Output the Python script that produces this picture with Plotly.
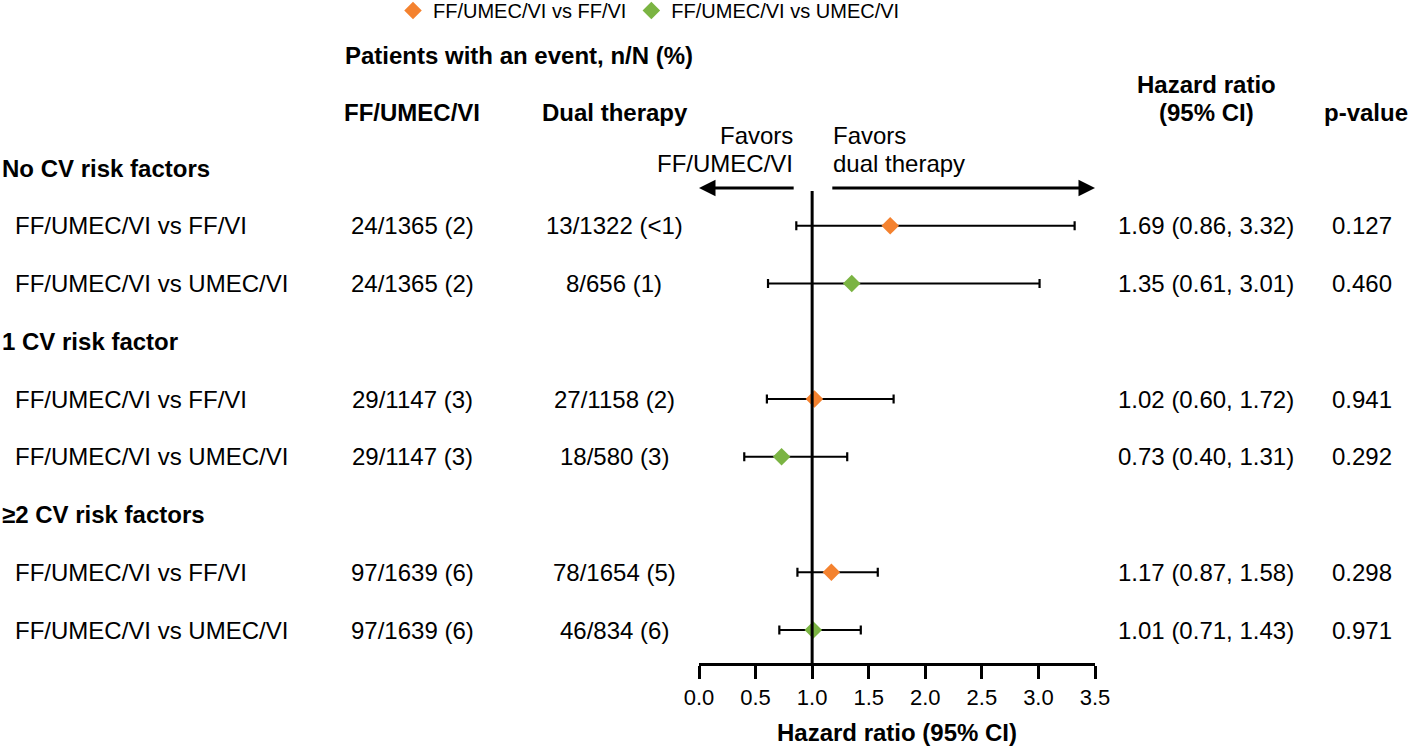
import plotly.graph_objects as go

W, H = 1416, 747

# ---------------- data ----------------
groups = ["No CV risk factors", "1 CV risk factor", "≥2 CV risk factors"]
comparisons = ["FF/UMEC/VI vs FF/VI", "FF/UMEC/VI vs UMEC/VI"]
triple_events = ["24/1365 (2)", "24/1365 (2)", "29/1147 (3)", "29/1147 (3)", "97/1639 (6)", "97/1639 (6)"]
dual_events = ["13/1322 (<1)", "8/656 (1)", "27/1158 (2)", "18/580 (3)", "78/1654 (5)", "46/834 (6)"]
hr = [1.69, 1.35, 1.02, 0.73, 1.17, 1.01]
ci_low = [0.86, 0.61, 0.60, 0.40, 0.87, 0.71]
ci_high = [3.32, 3.01, 1.72, 1.31, 1.58, 1.43]
p_values = ["0.127", "0.460", "0.941", "0.292", "0.298", "0.971"]
tick_values = [0.0, 0.5, 1.0, 1.5, 2.0, 2.5, 3.0, 3.5]
series_colors = {"FF/UMEC/VI vs FF/VI": "#F4822F", "FF/UMEC/VI vs UMEC/VI": "#7BB443"}

# ---------------- layout helpers ----------------
FONT = "Liberation Sans, Arial, Helvetica, sans-serif"
PLOT_BOTTOM_PX = 663
SLOT0_PX, SLOT_STEP = 168, 57.75
y_top = (0 - SLOT0_PX) / SLOT_STEP
y_bot = (PLOT_BOTTOM_PX - SLOT0_PX) / SLOT_STEP


def px_x(px):
    return px / W


def slot_of_px(py):
    return (py - SLOT0_PX) / SLOT_STEP


row_slots = [3 * (k // 2) + 1 + (k % 2) for k in range(len(hr))]
row_labels = [comparisons[k % 2] for k in range(len(hr))]

fig = go.Figure()

for comp in comparisons:
    idx = [k for k in range(len(hr)) if row_labels[k] == comp]
    fig.add_trace(go.Scatter(
        x=[hr[k] for k in idx],
        y=[row_slots[k] for k in idx],
        mode="markers",
        name=comp,
        marker=dict(symbol="diamond", size=13.5, color=series_colors[comp]),
        error_x=dict(type="data", symmetric=False,
                     array=[ci_high[k] - hr[k] for k in idx],
                     arrayminus=[hr[k] - ci_low[k] for k in idx],
                     color="#000000", thickness=2.2, width=4.5),
        cliponaxis=False,
    ))

ann = []
TXT = 24

def add_text(text, x_px, y, anchor="center", bold=False, size=TXT, yref="y"):
    ann.append(dict(
        text=f"<b>{text}</b>" if bold else text,
        x=px_x(x_px), xref="paper", y=y, yref=yref,
        xanchor=anchor, yanchor="middle", showarrow=False,
        font=dict(family=FONT, size=size, color="#000000"),
    ))

# column headers
add_text("Patients with an event, n/N (%)", 343, slot_of_px(55), anchor="left", bold=True)
add_text("FF/UMEC/VI", 412, slot_of_px(112), bold=True)
add_text("Dual therapy", 615, slot_of_px(112), bold=True)
add_text("Hazard ratio", 1206, slot_of_px(84), bold=True)
add_text("(95% CI)", 1206, slot_of_px(112), bold=True)
add_text("p-value", 1366, slot_of_px(112), bold=True)

# group headers
for g, name in enumerate(groups):
    add_text(name, 0, 3 * g, anchor="left", bold=True)

# rows
for k in range(len(hr)):
    s = row_slots[k]
    add_text(row_labels[k], 13, s, anchor="left")
    add_text(triple_events[k], 412, s)
    add_text(dual_events[k], 614, s)
    add_text(f"{hr[k]:.2f} ({ci_low[k]:.2f}, {ci_high[k]:.2f})", 1206, s)
    add_text(p_values[k], 1362, s)

# favors text
add_text("Favors", 795, slot_of_px(135), anchor="right", size=24)
add_text("FF/UMEC/VI", 795, slot_of_px(163), anchor="right", size=24)
add_text("Favors", 831, slot_of_px(135), anchor="left", size=24)
add_text("dual therapy", 831, slot_of_px(163), anchor="left", size=24)

# arrows
arrow_y = slot_of_px(188)
ann.append(dict(x=0.0, y=arrow_y, ax=0.85, ay=arrow_y, xref="x", yref="y", axref="x", ayref="y",
                showarrow=True, arrowhead=2, arrowsize=1.1, arrowwidth=3, arrowcolor="#000000",
                text="", standoff=0, startstandoff=0))
ann.append(dict(x=3.5, y=arrow_y, ax=1.165, ay=arrow_y, xref="x", yref="y", axref="x", ayref="y",
                showarrow=True, arrowhead=2, arrowsize=1.1, arrowwidth=3, arrowcolor="#000000",
                text="", standoff=0, startstandoff=0))

fig.add_shape(type="line", x0=1, x1=1, y0=slot_of_px(191), y1=y_bot, xref="x", yref="y",
              line=dict(color="#000000", width=3))

fig.update_layout(
    width=W, height=H,
    margin=dict(l=0, r=0, t=0, b=0, autoexpand=False),
    paper_bgcolor="white", plot_bgcolor="white",
    font=dict(family=FONT, color="#000000"),
    annotations=ann,
    showlegend=True,
    legend=dict(orientation="h", x=px_x(393), xanchor="left", y=1.012, yanchor="top",
                font=dict(family=FONT, size=20, color="#000000"),
                bgcolor="rgba(0,0,0,0)", itemwidth=30, traceorder="normal"),
    xaxis=dict(domain=[699 / W, 1095 / W], range=[0, 3.5], showgrid=False, zeroline=False,
               showline=True, linewidth=3, linecolor="#000000",
               ticks="outside", ticklen=13, tickwidth=3, tickcolor="#000000",
               tickvals=tick_values, ticktext=[f"{v:.1f}" for v in tick_values],
               tickfont=dict(family=FONT, size=22, color="#000000"),
               title=dict(text="<b>Hazard ratio (95% CI)</b>", standoff=15,
                          font=dict(family=FONT, size=24, color="#000000")),
               fixedrange=True),
    yaxis=dict(domain=[(H - PLOT_BOTTOM_PX) / H, 1], range=[y_bot, y_top], visible=False,
               showgrid=False, zeroline=False, fixedrange=True),
)

fig.write_html("out.html",
               config={"displayModeBar": False, "staticPlot": True},
               post_script="document.body.style.margin='0';document.body.style.overflow='hidden';")
